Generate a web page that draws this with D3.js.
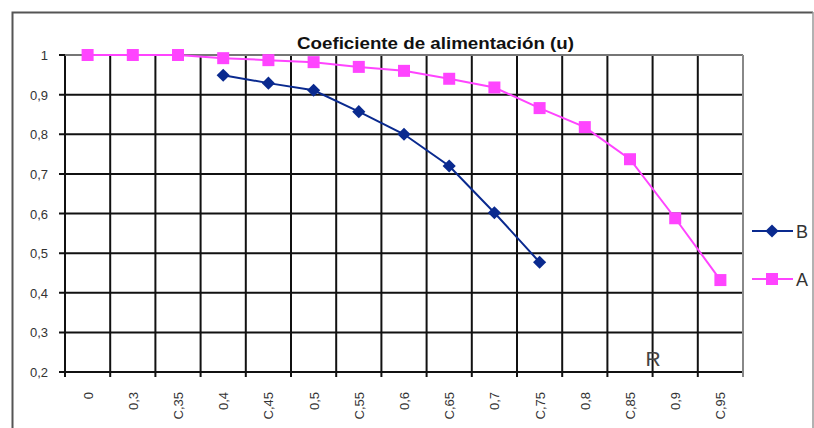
<!DOCTYPE html>
<html><head><meta charset="utf-8">
<script src="https://cdn.jsdelivr.net/npm/d3@7"></script>
<style>body{margin:0;background:#fff}svg{display:block}</style>
</head><body>
<script>
const categories = ["0","0,3","C,35","0,4","C,45","0,5","C,55","0,6","C,65","0,7","C,75","0,8","C,85","0,9","C,95"];
const seriesA = [1,1,1,0.992,0.987,0.982,0.970,0.960,0.940,0.918,0.866,0.818,0.737,0.588,0.432];
const seriesB = [null,null,null,0.949,0.929,0.911,0.857,0.800,0.720,0.602,0.477,null,null,null,null];
const yTicks = [0.2,0.3,0.4,0.5,0.6,0.7,0.8,0.9,1];
const yTickLabels = ["0,2","0,3","0,4","0,5","0,6","0,7","0,8","0,9","1"];
const title = "Coeficiente de alimentación (u)";

const W=814,H=428;
const svg=d3.select("body").append("svg").attr("width",W).attr("height",H);
const L=65,R=743,T=55,B=372;
const x=d3.scaleBand().domain(categories).range([L,R]);
const y=d3.scaleLinear().domain([0.2,1]).range([B,T]);
const font="Liberation Sans, Arial, sans-serif";

// outer frame
svg.append("path").attr("d",`M12.5,${H} V12.5 H813`).attr("fill","none").attr("stroke","#555").attr("stroke-width",2);
svg.append("line").attr("x1",813).attr("x2",813).attr("y1",12).attr("y2",H).attr("stroke","#999").attr("stroke-width",1.5);

// grid
const g=svg.append("g");
yTicks.forEach(v=>{
  g.append("line").attr("x1",L-6).attr("x2",R).attr("y1",y(v)).attr("y2",y(v)).attr("stroke","#111").attr("stroke-width",2);
});
const bounds=categories.map(c=>x(c)).concat([R]);
bounds.forEach((bx,i)=>{
  g.append("line").attr("x1",bx).attr("x2",bx).attr("y1",T).attr("y2",B+5)
   .attr("stroke",i===bounds.length-1?"#888":"#111").attr("stroke-width",2);
});
g.append("line").attr("x1",L).attr("x2",R).attr("y1",T).attr("y2",T).attr("stroke","#999").attr("stroke-width",1.5);

// y labels
yTicks.forEach((v,i)=>{
  svg.append("text").attr("x",48).attr("y",y(v)+5).attr("text-anchor","end")
   .attr("font-family",font).attr("font-size",13).attr("fill","#333").text(yTickLabels[i]);
});
// x labels
categories.forEach(c=>{
  const cx=x(c)+x.bandwidth()/2;
  svg.append("text").attr("transform",`translate(${cx+5},392) rotate(-90)`).attr("text-anchor","end")
   .attr("font-family",font).attr("font-size",13).attr("fill","#333").text(c);
});

// title
svg.append("text").attr("x",297).attr("y",49).attr("font-family",font)
  .attr("font-weight","bold").attr("font-size",16).attr("fill","#111")
  .attr("textLength",277).attr("lengthAdjust","spacingAndGlyphs").text(title);
// R
svg.append("text").attr("x",653).attr("y",366).attr("text-anchor","middle").attr("font-family",font)
  .attr("font-size",21).attr("fill","#444").text("R");

const cx=c=>x(c)+x.bandwidth()/2;
const line=d3.line().defined(d=>d.v!=null).x(d=>cx(d.c)).y(d=>y(d.v));
const pink="#ff44ff", navy="#0a2a8f";
const dA=categories.map((c,i)=>({c,v:seriesA[i]}));
const dB=categories.map((c,i)=>({c,v:seriesB[i]}));
svg.append("path").datum(dA).attr("d",line).attr("fill","none").attr("stroke",pink).attr("stroke-width",2);
svg.append("path").datum(dB).attr("d",line).attr("fill","none").attr("stroke",navy).attr("stroke-width",2);
svg.selectAll(".sqA").data(dA.filter(d=>d.v!=null)).join("rect")
  .attr("x",d=>cx(d.c)-6).attr("y",d=>y(d.v)-6).attr("width",12).attr("height",12).attr("fill",pink);
const diamond=d3.symbol().type(d3.symbolDiamond2).size(110);
svg.selectAll(".dB").data(dB.filter(d=>d.v!=null)).join("path")
  .attr("transform",d=>`translate(${cx(d.c)},${y(d.v)})`).attr("d",diamond).attr("fill",navy);

// legend
const leg=[{n:"B",col:navy,yy:231,t:"d"},{n:"A",col:pink,yy:279,t:"s"}];
leg.forEach(l=>{
  svg.append("line").attr("x1",752).attr("x2",793).attr("y1",l.yy).attr("y2",l.yy).attr("stroke",l.col).attr("stroke-width",2);
  if(l.t==="d") svg.append("path").attr("transform",`translate(772,${l.yy})`).attr("d",diamond).attr("fill",l.col);
  else svg.append("rect").attr("x",766).attr("y",l.yy-6).attr("width",12).attr("height",12).attr("fill",l.col);
  svg.append("text").attr("x",796).attr("y",l.yy+7).attr("font-family",font).attr("font-size",18).attr("fill","#333").text(l.n);
});
</script>
</body></html>
